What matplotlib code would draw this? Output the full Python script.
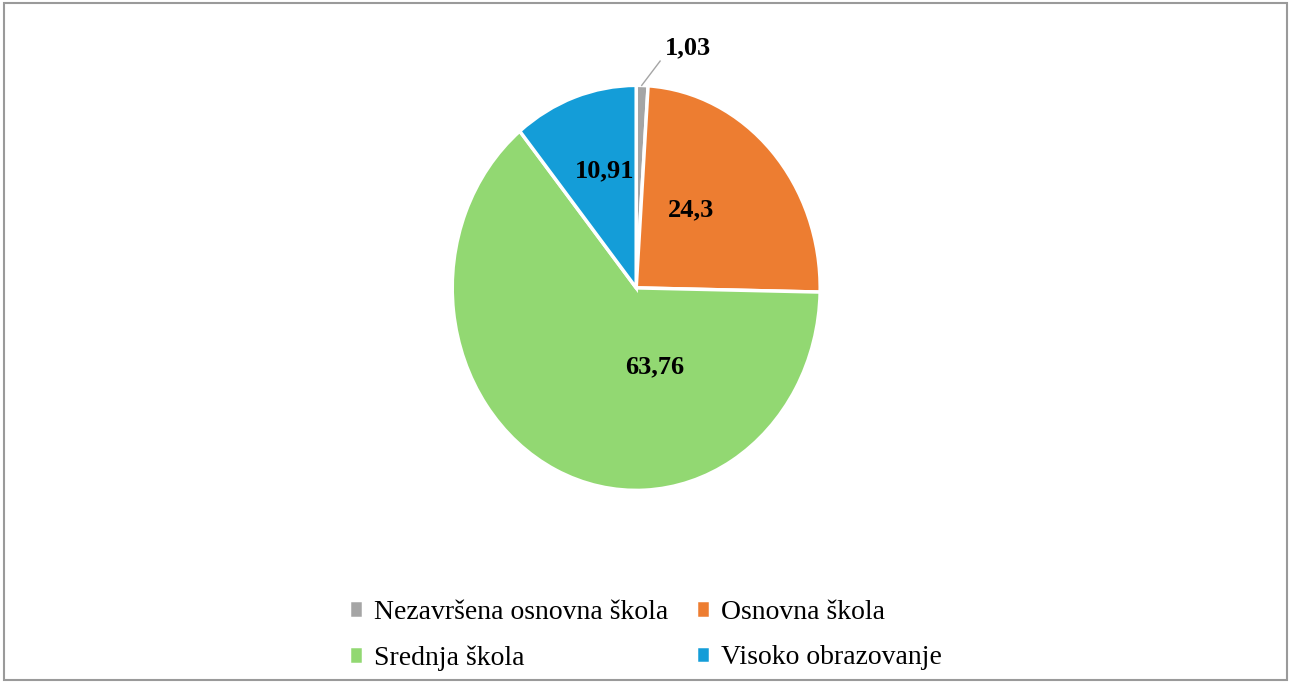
import matplotlib
matplotlib.use("Agg")
import matplotlib.pyplot as plt
from matplotlib.patches import Rectangle

categories = ["Nezavršena osnovna škola", "Osnovna škola", "Srednja škola", "Visoko obrazovanje"]
values = [1.03, 24.3, 63.76, 10.91]
labels = ["1,03", "24,3", "63,76", "10,91"]
colors = ["#a5a5a5", "#ed7d31", "#92d872", "#149dd8"]

plt.rcParams['font.family'] = ['Liberation Serif', 'DejaVu Serif']
fig = plt.figure(figsize=(12.91, 6.83), dpi=100)
fig.patches.append(Rectangle((0.003, 0.004), 0.994, 0.992, transform=fig.transFigure,
                             fill=False, edgecolor="#9a9a9a", linewidth=1.5))
ax = fig.add_axes([0.3503, 0.282, 0.285, 0.593])
wedges, _ = ax.pie(values, colors=colors, startangle=90, counterclock=False,
                   wedgeprops=dict(edgecolor="white", linewidth=2.5))
ax.set_aspect('auto')
ax.set_xlim(-1, 1); ax.set_ylim(-1, 1)

pos = [(0.28, 1.185), (0.30, 0.385), (0.10, -0.39), (-0.17, 0.58)]
for (x, y), t in zip(pos, labels):
    ax.text(x, y, t, ha="center", va="center", fontsize=19, fontweight="bold", color="black", clip_on=False)
ax.plot([0.03, 0.13], [1.0, 1.12], color="#a5a5a5", lw=1, clip_on=False)

order = [0, 2, 1, 3]
fig.legend([wedges[i] for i in order], [categories[i] for i in order], loc="center",
           bbox_to_anchor=(0.5, 0.07), ncol=2, frameon=False, fontsize=20,
           handlelength=0.5, handleheight=0.6, columnspacing=1.0,
           handletextpad=0.4, labelspacing=0.75)
fig.savefig("out.png", dpi=100)
